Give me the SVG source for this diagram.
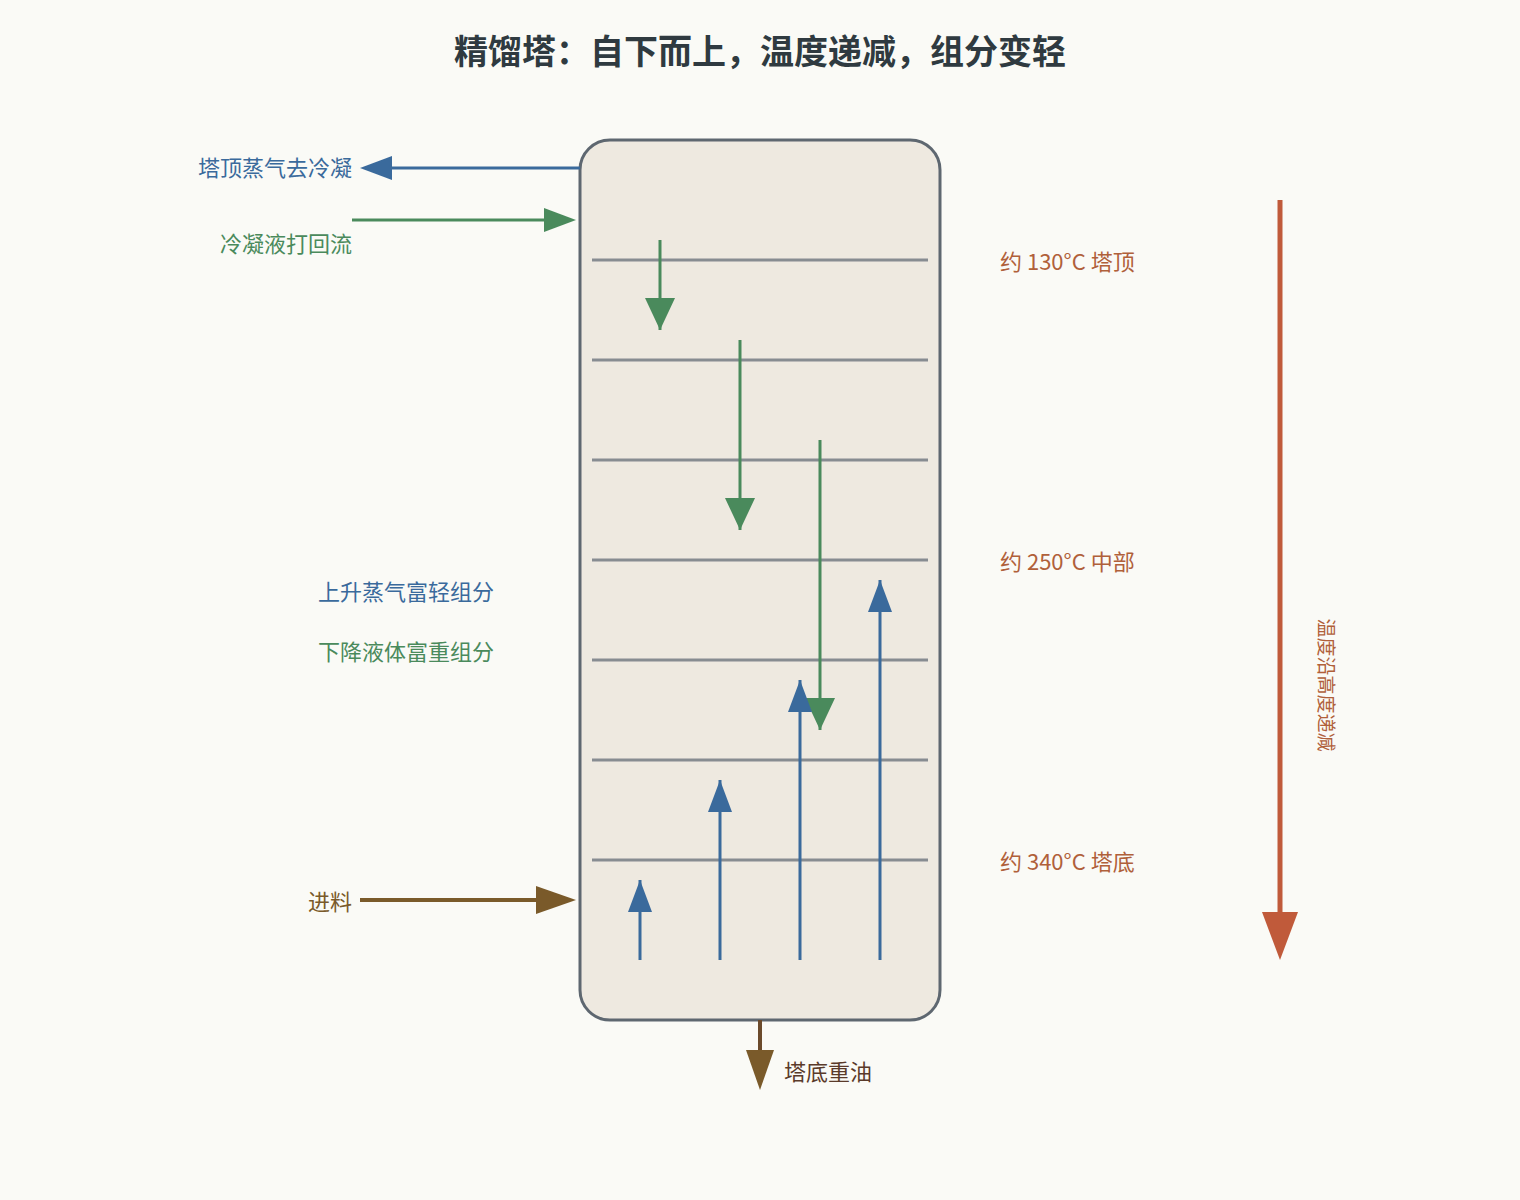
<svg xmlns="http://www.w3.org/2000/svg" width="1520" height="1200" viewBox="0 0 1520 1200">
<style>
text{font-family:"Noto Sans CJK SC","Noto Sans",sans-serif;font-size:22px}
.tray{stroke:#878c91;stroke-width:3}
.g{stroke:#4a8a5c;stroke-width:3;fill:none}
.b{stroke:#3a6a9c;stroke-width:3;fill:none}
.t{fill:#b0603a}
</style>
<defs>
<marker id="ag" markerWidth="10" markerHeight="10" refX="10" refY="5" orient="auto" markerUnits="userSpaceOnUse" viewBox="0 0 10 10"><path d="M0,0L10,5L0,10z" fill="#4a8a5c"/></marker>
</defs>
<rect width="1520" height="1200" fill="#fafaf6"/>
<text x="760" y="64" text-anchor="middle" style="font-size:34px;font-weight:bold" fill="#2f3a40">精馏塔：自下而上，温度递减，组分变轻</text>
<g id="column">
<rect x="580" y="140" width="360" height="880" rx="30" fill="#eee9e0" stroke="#5e6770" stroke-width="3"/>
<g id="trays">
<line class="tray" x1="592" y1="260" x2="928" y2="260"/>
<line class="tray" x1="592" y1="360" x2="928" y2="360"/>
<line class="tray" x1="592" y1="460" x2="928" y2="460"/>
<line class="tray" x1="592" y1="560" x2="928" y2="560"/>
<line class="tray" x1="592" y1="660" x2="928" y2="660"/>
<line class="tray" x1="592" y1="760" x2="928" y2="760"/>
<line class="tray" x1="592" y1="860" x2="928" y2="860"/>
</g>
</g>
<g id="connectors">
<line class="g" x1="660" y1="240" x2="660" y2="330"/><path d="M645,298L675,298L660,330z" fill="#4a8a5c"/>
<line class="g" x1="740" y1="340" x2="740" y2="530"/><path d="M725,498L755,498L740,530z" fill="#4a8a5c"/>
<line class="g" x1="820" y1="440" x2="820" y2="730"/><path d="M805,698L835,698L820,730z" fill="#4a8a5c"/>
<line class="b" x1="640" y1="960" x2="640" y2="880"/><path d="M628,912L652,912L640,880z" fill="#3a6a9c"/>
<line class="b" x1="720" y1="960" x2="720" y2="780"/><path d="M708,812L732,812L720,780z" fill="#3a6a9c"/>
<line class="b" x1="800" y1="960" x2="800" y2="680"/><path d="M788,712L812,712L800,680z" fill="#3a6a9c"/>
<line class="b" x1="880" y1="960" x2="880" y2="580"/><path d="M868,612L892,612L880,580z" fill="#3a6a9c"/>
<line class="b" x1="580" y1="168" x2="380" y2="168"/><path d="M392,156L392,180L360,168z" fill="#3a6a9c"/>
<line class="g" x1="352" y1="220" x2="560" y2="220"/><path d="M544,208L544,232L576,220z" fill="#4a8a5c"/>
<line x1="360" y1="900" x2="550" y2="900" stroke="#7a5a2a" stroke-width="4"/><path d="M536,886L536,914L576,900z" fill="#7a5a2a"/>
<line x1="760" y1="1020" x2="760" y2="1060" stroke="#6b4a2b" stroke-width="4"/><path d="M746,1050L774,1050L760,1090z" fill="#7a5a2a"/>
<line x1="1280" y1="200" x2="1280" y2="920" stroke="#c05a3a" stroke-width="5"/><path d="M1262,912L1298,912L1280,960z" fill="#c05a3a"/>
</g>
<g id="labels">
<text x="352" y="176" text-anchor="end" fill="#3a6a9c">塔顶蒸气去冷凝</text>
<text x="352" y="252" text-anchor="end" fill="#4a8a5c">冷凝液打回流</text>
<text x="318" y="600" fill="#3a6a9c">上升蒸气富轻组分</text>
<text x="318" y="660" fill="#4a8a5c">下降液体富重组分</text>
<text x="352" y="910" text-anchor="end" fill="#7a5a2a">进料</text>
<text x="784" y="1080" fill="#5a3a2a">塔底重油</text>
<text class="t" x="1000" y="270">约 130°C 塔顶</text>
<text class="t" x="1000" y="570">约 250°C 中部</text>
<text class="t" x="1000" y="870">约 340°C 塔底</text>
<text class="t" x="0" y="0" text-anchor="middle" style="font-size:19px" transform="translate(1319,685) rotate(90)">温度沿高度递减</text>
</g>
</svg>
